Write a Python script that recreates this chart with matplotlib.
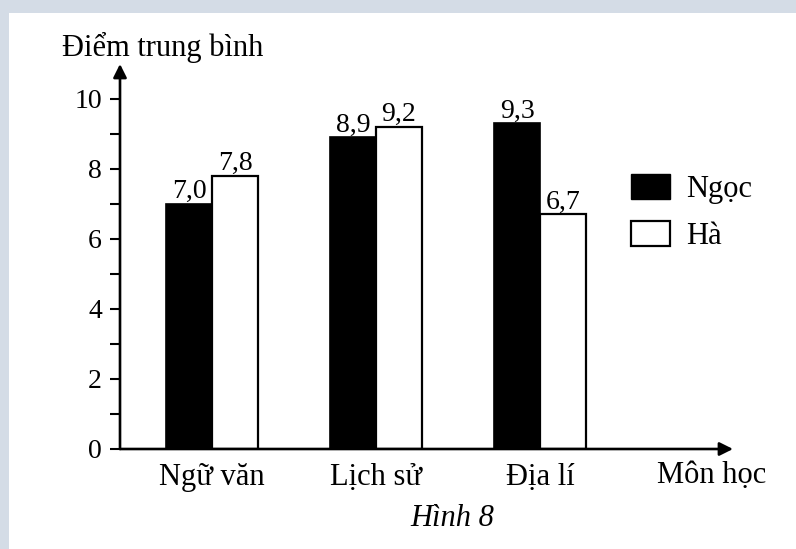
import matplotlib
matplotlib.use("Agg")
import matplotlib.pyplot as plt
import numpy as np
from matplotlib.patches import Rectangle

mon_hoc = ["Ngữ văn", "Lịch sử", "Địa lí"]
ngoc = [7.0, 8.9, 9.3]
ha = [7.8, 9.2, 6.7]
nhan_ngoc = ["7,0", "8,9", "9,3"]
nhan_ha = ["7,8", "9,2", "6,7"]

plt.rcParams['font.family'] = ['Liberation Serif', 'DejaVu Serif']
plt.rcParams['font.size'] = 22

W, H = 796, 549
fig = plt.figure(figsize=(W / 100, H / 100), dpi=100, facecolor='white')

# khung mau xanh nhat o tren va ben trai
bg = '#d4dce6'
fig.patches.append(Rectangle((0, 1 - 13 / H), 1, 13 / H, transform=fig.transFigure,
                             facecolor=bg, edgecolor='none', zorder=0))
fig.patches.append(Rectangle((0, 0), 9 / W, 1, transform=fig.transFigure,
                             facecolor=bg, edgecolor='none', zorder=0))

# truc: goc o (120, 449) px, dinh mui ten y o 64 px, mui ten x o 733 px
x0, y0 = 120, 449
ax = fig.add_axes([x0 / W, (H - y0) / H, (733 - x0) / W, (y0 - 64) / H])
ax.set_facecolor('none')

x = np.arange(len(mon_hoc))
w = 0.28
ax.bar(x - w / 2, ngoc, w, color='black', edgecolor='black', linewidth=1.2)
ax.bar(x + w / 2, ha, w, color='white', edgecolor='black', linewidth=1.6)

for i in range(len(mon_hoc)):
    ax.annotate(nhan_ngoc[i], (x[i] - w / 2, ngoc[i]), xytext=(0, 0),
                textcoords='offset points', ha='center', va='bottom', fontsize=20)
    ax.annotate(nhan_ha[i], (x[i] + w / 2, ha[i]), xytext=(0, 0),
                textcoords='offset points', ha='center', va='bottom', fontsize=20)

ax.set_xlim(-0.561, 3.177)
ax.set_ylim(0, 11)

for s in ax.spines.values():
    s.set_visible(False)
ax.annotate('', xy=(0, 1), xytext=(0, 0), xycoords='axes fraction',
            arrowprops=dict(arrowstyle='-|>', color='black', lw=1.9,
                            mutation_scale=20, shrinkA=0, shrinkB=0))
ax.annotate('', xy=(1, 0), xytext=(0, 0), xycoords='axes fraction',
            arrowprops=dict(arrowstyle='-|>', color='black', lw=1.9,
                            mutation_scale=20, shrinkA=0, shrinkB=0))

ax.set_yticks([0, 2, 4, 6, 8, 10])
ax.set_yticks([1, 3, 5, 7, 9], minor=True)
ax.tick_params(axis='y', which='both', direction='out', length=7, width=1.5,
               pad=6, labelsize=20)
ax.set_xticks(x)
ax.set_xticklabels(mon_hoc)
ax.tick_params(axis='x', length=0, pad=10)

fig.text(62 / W, 1 - 47 / H, "Điểm trung bình", ha='left', va='center')
fig.text(712 / W, 1 - 475 / H, "Môn học", ha='center', va='center')
fig.text(452 / W, 1 - 518 / H, "Hình 8", ha='center', va='center', style='italic')

h1 = Rectangle((0, 0), 1, 1, facecolor='black', edgecolor='black')
h2 = Rectangle((0, 0), 1, 1, facecolor='white', edgecolor='black', linewidth=1.6)
fig.legend([h1, h2], ["Ngọc", "Hà"], loc='upper left',
           bbox_to_anchor=(631 / W, 1 - 174 / H), frameon=False,
           handlelength=1.27, handleheight=0.88, handletextpad=0.55,
           labelspacing=0.55, borderpad=0, borderaxespad=0)

fig.savefig('out.png', dpi=100, facecolor='white')
